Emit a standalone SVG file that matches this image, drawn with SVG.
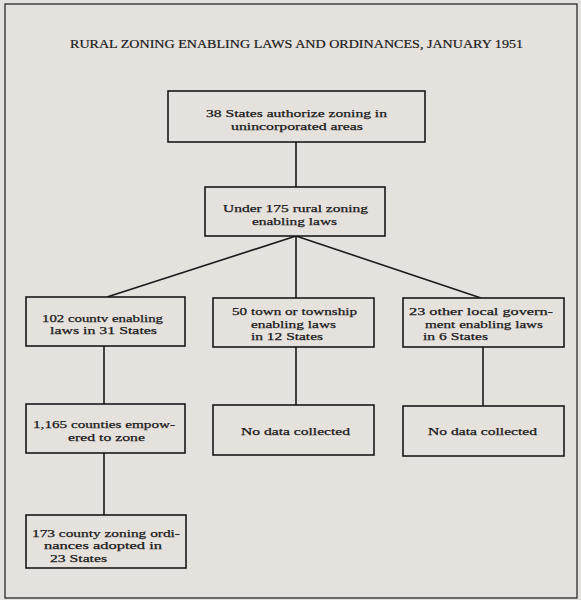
<svg xmlns="http://www.w3.org/2000/svg" width="581" height="600" viewBox="0 0 581 600">
<style>
.bg{fill:#e5e1dd}
.frame{fill:none;stroke:#2a2a2a;stroke-width:1.3}
.box{fill:#e5e1dd;stroke:#1a1a1a;stroke-width:1.6}
.lbl{font-family:"Liberation Serif","DejaVu Serif",serif;font-size:10.5px;fill:#1a1a1a;stroke:#1a1a1a;stroke-width:0.25}
.title{font-family:"Liberation Serif","DejaVu Serif",serif;font-size:11.5px;fill:#1a1a1a;stroke:#1a1a1a;stroke-width:0.2;text-anchor:middle}
.conn{stroke:#1a1a1a;stroke-width:1.6;fill:none}
</style>
<rect class="bg" x="0" y="0" width="581" height="600"/>
<rect class="frame" x="5" y="4" width="572" height="594"/>
<text class="title" x="296.5" y="48" textLength="453" lengthAdjust="spacingAndGlyphs">RURAL ZONING ENABLING LAWS AND ORDINANCES, JANUARY 1951</text>
<g id="connectors">
<line class="conn" x1="296" y1="142" x2="296" y2="187"/>
<line class="conn" x1="296" y1="236" x2="107" y2="297"/>
<line class="conn" x1="296" y1="236" x2="296" y2="298"/>
<line class="conn" x1="296" y1="236" x2="481" y2="298"/>
<line class="conn" x1="104" y1="346" x2="104" y2="404"/>
<line class="conn" x1="296" y1="347" x2="296" y2="405"/>
<line class="conn" x1="483" y1="347" x2="483" y2="406"/>
<line class="conn" x1="104" y1="453" x2="104" y2="515"/>
</g>
<g id="n1">
<rect class="box" x="168" y="91" width="257" height="51"/>
<text class="lbl" x="206" y="117" textLength="181" lengthAdjust="spacingAndGlyphs">38 States authorize zoning in</text>
<text class="lbl" x="231" y="129.5" textLength="132" lengthAdjust="spacingAndGlyphs">unincorporated areas</text>
</g>
<g id="n2">
<rect class="box" x="205" y="187" width="180" height="49"/>
<text class="lbl" x="223" y="212" textLength="145" lengthAdjust="spacingAndGlyphs">Under 175 rural zoning</text>
<text class="lbl" x="252" y="225" textLength="85" lengthAdjust="spacingAndGlyphs">enabling laws</text>
</g>
<g id="n3">
<rect class="box" x="26" y="297" width="159" height="49"/>
<text class="lbl" x="42" y="321.5" textLength="121" lengthAdjust="spacingAndGlyphs">102 countv enabling</text>
<text class="lbl" x="50" y="334" textLength="107" lengthAdjust="spacingAndGlyphs">laws in 31 States</text>
</g>
<g id="n4">
<rect class="box" x="213" y="298" width="161" height="49"/>
<text class="lbl" x="232" y="315" textLength="125" lengthAdjust="spacingAndGlyphs">50 town or township</text>
<text class="lbl" x="251" y="327.5" textLength="85" lengthAdjust="spacingAndGlyphs">enabling laws</text>
<text class="lbl" x="251" y="340" textLength="72" lengthAdjust="spacingAndGlyphs">in 12 States</text>
</g>
<g id="n5">
<rect class="box" x="403" y="298" width="161" height="49"/>
<text class="lbl" x="409" y="315" textLength="144" lengthAdjust="spacingAndGlyphs">23 other local govern-</text>
<text class="lbl" x="425" y="327.5" textLength="118" lengthAdjust="spacingAndGlyphs">ment enabling laws</text>
<text class="lbl" x="423" y="340" textLength="65" lengthAdjust="spacingAndGlyphs">in 6 States</text>
</g>
<g id="n6">
<rect class="box" x="26" y="404" width="159" height="49"/>
<text class="lbl" x="33" y="428" textLength="142" lengthAdjust="spacingAndGlyphs">1,165 counties empow-</text>
<text class="lbl" x="68" y="441" textLength="77" lengthAdjust="spacingAndGlyphs">ered to zone</text>
</g>
<g id="n7">
<rect class="box" x="213" y="405" width="161" height="50"/>
<text class="lbl" x="241" y="435" textLength="109" lengthAdjust="spacingAndGlyphs">No data collected</text>
</g>
<g id="n8">
<rect class="box" x="403" y="406" width="161" height="50"/>
<text class="lbl" x="428" y="435" textLength="109" lengthAdjust="spacingAndGlyphs">No data collected</text>
</g>
<g id="n9">
<rect class="box" x="26" y="515" width="160" height="53"/>
<text class="lbl" x="32" y="536.5" textLength="148" lengthAdjust="spacingAndGlyphs">173 county zoning ordi-</text>
<text class="lbl" x="44" y="549" textLength="118" lengthAdjust="spacingAndGlyphs">nances adopted in</text>
<text class="lbl" x="50" y="561.5" textLength="57" lengthAdjust="spacingAndGlyphs">23 States</text>
</g>
</svg>
